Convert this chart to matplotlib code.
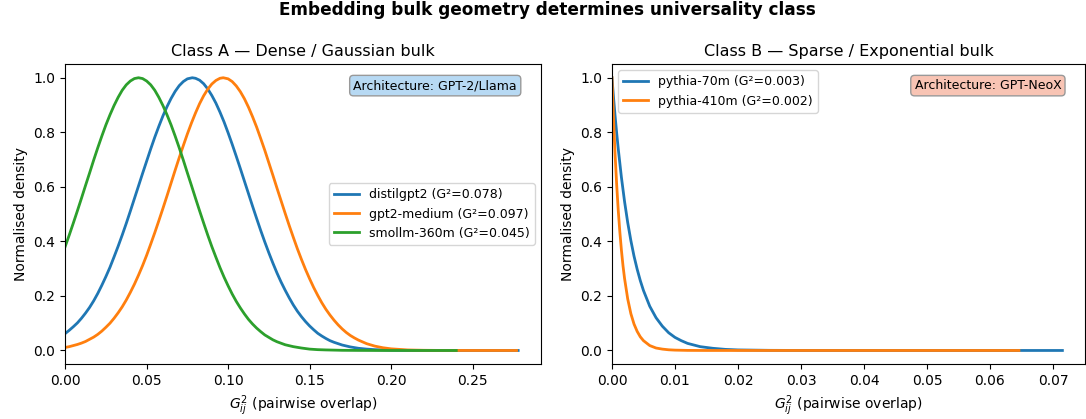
import matplotlib
matplotlib.use('Agg')
import matplotlib.pyplot as plt

# Class A curves (normalised to peak = 1)
x_distil = [0.000, 0.0025, 0.005, 0.0075, 0.010, 0.0125, 0.015, 0.0175, 0.020, 0.0225,
            0.025, 0.0275, 0.030, 0.0325, 0.035, 0.0375, 0.040, 0.0425, 0.045, 0.0475,
            0.050, 0.0525, 0.055, 0.0575, 0.060, 0.0625, 0.065, 0.0675, 0.070, 0.0725,
            0.075, 0.078, 0.080, 0.0825, 0.085, 0.0875, 0.090, 0.0925, 0.095, 0.0975,
            0.100, 0.1025, 0.105, 0.1075, 0.110, 0.1125, 0.115, 0.1175, 0.120, 0.1225,
            0.125, 0.1275, 0.130, 0.1325, 0.135, 0.1375, 0.140, 0.1425, 0.145, 0.1475,
            0.150, 0.1525, 0.155, 0.1575, 0.160, 0.1625, 0.165, 0.170, 0.175, 0.180,
            0.185, 0.190, 0.195, 0.200, 0.210, 0.220, 0.230, 0.250, 0.278]
y_distil = [0.062, 0.074, 0.087, 0.101, 0.118, 0.137, 0.158, 0.182, 0.209, 0.239,
            0.271, 0.305, 0.343, 0.382, 0.423, 0.466, 0.511, 0.557, 0.603, 0.649,
            0.694, 0.739, 0.782, 0.822, 0.860, 0.894, 0.924, 0.950, 0.971, 0.986,
            0.996, 1.000, 0.998, 0.991, 0.978, 0.959, 0.935, 0.907, 0.874, 0.838,
            0.798, 0.756, 0.712, 0.667, 0.621, 0.575, 0.529, 0.484, 0.440, 0.398,
            0.358, 0.320, 0.284, 0.251, 0.221, 0.193, 0.167, 0.144, 0.124, 0.106,
            0.090, 0.076, 0.063, 0.053, 0.044, 0.036, 0.030, 0.020, 0.013, 0.008,
            0.005, 0.003, 0.002, 0.001, 0.0003, 0.0001, 0.0, 0.0, 0.0]

x_gpt2m = [0.000, 0.0025, 0.005, 0.0075, 0.010, 0.0125, 0.015, 0.0175, 0.020, 0.0225,
           0.025, 0.0275, 0.030, 0.0325, 0.035, 0.0375, 0.040, 0.0425, 0.045, 0.0475,
           0.050, 0.0525, 0.055, 0.0575, 0.060, 0.0625, 0.065, 0.0675, 0.070, 0.0725,
           0.075, 0.0775, 0.080, 0.0825, 0.085, 0.0875, 0.090, 0.0925, 0.095, 0.097,
           0.100, 0.1025, 0.105, 0.1075, 0.110, 0.1125, 0.115, 0.1175, 0.120, 0.1225,
           0.125, 0.1275, 0.130, 0.1325, 0.135, 0.1375, 0.140, 0.1425, 0.145, 0.1475,
           0.150, 0.1525, 0.155, 0.1575, 0.160, 0.1625, 0.165, 0.1675, 0.170, 0.1725,
           0.175, 0.1775, 0.180, 0.185, 0.190, 0.195, 0.200, 0.205, 0.210, 0.215,
           0.220, 0.230, 0.240, 0.250, 0.277]
y_gpt2m = [0.011, 0.014, 0.018, 0.022, 0.027, 0.033, 0.041, 0.049, 0.059, 0.071,
           0.085, 0.100, 0.118, 0.138, 0.160, 0.185, 0.213, 0.243, 0.276, 0.311,
           0.349, 0.390, 0.432, 0.476, 0.521, 0.567, 0.614, 0.661, 0.707, 0.751,
           0.794, 0.834, 0.871, 0.905, 0.934, 0.958, 0.977, 0.990, 0.998, 1.000,
           0.996, 0.986, 0.970, 0.949, 0.923, 0.892, 0.857, 0.819, 0.777, 0.734,
           0.688, 0.642, 0.595, 0.549, 0.503, 0.458, 0.415, 0.373, 0.334, 0.297,
           0.263, 0.231, 0.202, 0.175, 0.151, 0.130, 0.111, 0.094, 0.079, 0.066,
           0.055, 0.046, 0.038, 0.025, 0.016, 0.010, 0.006, 0.004, 0.002, 0.0013,
           0.0007, 0.0002, 0.0001, 0.0, 0.0]

x_smollm = [0.000, 0.0025, 0.005, 0.0075, 0.010, 0.0125, 0.015, 0.0175, 0.020, 0.0225,
            0.025, 0.0275, 0.030, 0.0325, 0.035, 0.0375, 0.040, 0.0425, 0.045, 0.0475,
            0.050, 0.0525, 0.055, 0.0575, 0.060, 0.0625, 0.065, 0.0675, 0.070, 0.0725,
            0.075, 0.0775, 0.080, 0.0825, 0.085, 0.0875, 0.090, 0.0925, 0.095, 0.0975,
            0.100, 0.1025, 0.105, 0.1075, 0.110, 0.1125, 0.115, 0.1175, 0.120, 0.1225,
            0.125, 0.1275, 0.130, 0.135, 0.140, 0.145, 0.150, 0.155, 0.160, 0.170,
            0.180, 0.190, 0.240]
y_smollm = [0.381, 0.423, 0.467, 0.512, 0.558, 0.605, 0.651, 0.698, 0.743, 0.786,
            0.827, 0.864, 0.898, 0.928, 0.954, 0.974, 0.988, 0.997, 1.000, 0.997,
            0.988, 0.974, 0.954, 0.928, 0.898, 0.864, 0.827, 0.786, 0.743, 0.698,
            0.651, 0.605, 0.558, 0.512, 0.467, 0.423, 0.381, 0.342, 0.304, 0.269,
            0.237, 0.207, 0.180, 0.156, 0.134, 0.114, 0.097, 0.082, 0.069, 0.057,
            0.048, 0.039, 0.032, 0.021, 0.014, 0.009, 0.005, 0.003, 0.002, 0.0006,
            0.0002, 0.0, 0.0]

# Class B curves
x_p70 = [0.0, 0.00025, 0.0005, 0.00075, 0.001, 0.0015, 0.002, 0.0025, 0.003, 0.0035,
         0.004, 0.0045, 0.005, 0.006, 0.007, 0.008, 0.009, 0.010, 0.011, 0.012,
         0.013, 0.014, 0.016, 0.018, 0.020, 0.025, 0.030, 0.0715]
y_p70 = [1.0, 0.927, 0.859, 0.797, 0.739, 0.635, 0.546, 0.469, 0.403, 0.346,
         0.298, 0.256, 0.220, 0.162, 0.120, 0.089, 0.065, 0.048, 0.036, 0.026,
         0.020, 0.014, 0.008, 0.004, 0.002, 0.0005, 0.0001, 0.0]

x_p410 = [0.0, 0.00025, 0.0005, 0.00075, 0.001, 0.00125, 0.0015, 0.00175, 0.002, 0.0025,
          0.003, 0.0035, 0.004, 0.0045, 0.005, 0.006, 0.007, 0.008, 0.009, 0.010,
          0.012, 0.015, 0.0646]
y_p410 = [1.0, 0.847, 0.717, 0.607, 0.513, 0.435, 0.368, 0.311, 0.264, 0.189,
          0.135, 0.097, 0.070, 0.050, 0.036, 0.018, 0.009, 0.005, 0.0025, 0.0013,
          0.0003, 0.0, 0.0]

labels_a = ['distilgpt2 (G²=0.078)', 'gpt2-medium (G²=0.097)', 'smollm-360m (G²=0.045)']
labels_b = ['pythia-70m (G²=0.003)', 'pythia-410m (G²=0.002)']

fig = plt.figure(figsize=(10.86, 4.19), dpi=100)
ax1 = fig.add_axes([0.060, 0.131, 0.438, 0.716])
ax2 = fig.add_axes([0.5635, 0.131, 0.4355, 0.716])

ax1.plot(x_distil, y_distil, lw=2, color='tab:blue', label=labels_a[0])
ax1.plot(x_gpt2m, y_gpt2m, lw=2, color='tab:orange', label=labels_a[1])
ax1.plot(x_smollm, y_smollm, lw=2, color='tab:green', label=labels_a[2])
ax1.set_xlim(0, max(x_distil) * 1.05)
ax1.set_ylim(-0.05, 1.05)
ax1.set_title('Class A — Dense / Gaussian bulk', fontsize=11.5)
ax1.legend(loc='center right', fontsize=9)
ax1.text(0.95, 0.95, 'Architecture: GPT-2/Llama', transform=ax1.transAxes, ha='right', va='top',
         fontsize=9, bbox=dict(boxstyle='round,pad=0.3', facecolor='#b7d9f3', edgecolor='#999999'))

ax2.plot(x_p70, y_p70, lw=2, color='tab:blue', label=labels_b[0])
ax2.plot(x_p410, y_p410, lw=2, color='tab:orange', label=labels_b[1])
ax2.set_xlim(0, max(x_p70) * 1.05)
ax2.set_ylim(-0.05, 1.05)
ax2.set_title('Class B — Sparse / Exponential bulk', fontsize=11.5)
ax2.legend(loc='upper left', fontsize=9)
ax2.text(0.95, 0.95, 'Architecture: GPT-NeoX', transform=ax2.transAxes, ha='right', va='top',
         fontsize=9, bbox=dict(boxstyle='round,pad=0.3', facecolor='#f8c4b4', edgecolor='#999999'))

for ax in (ax1, ax2):
    ax.set_xlabel(r'$G_{ij}^2$ (pairwise overlap)')
    ax.set_ylabel('Normalised density')

fig.text(0.504, 0.975, 'Embedding bulk geometry determines universality class',
         ha='center', va='center', fontsize=12.2, weight='bold')

plt.savefig('out.png', dpi=100, facecolor='white')
